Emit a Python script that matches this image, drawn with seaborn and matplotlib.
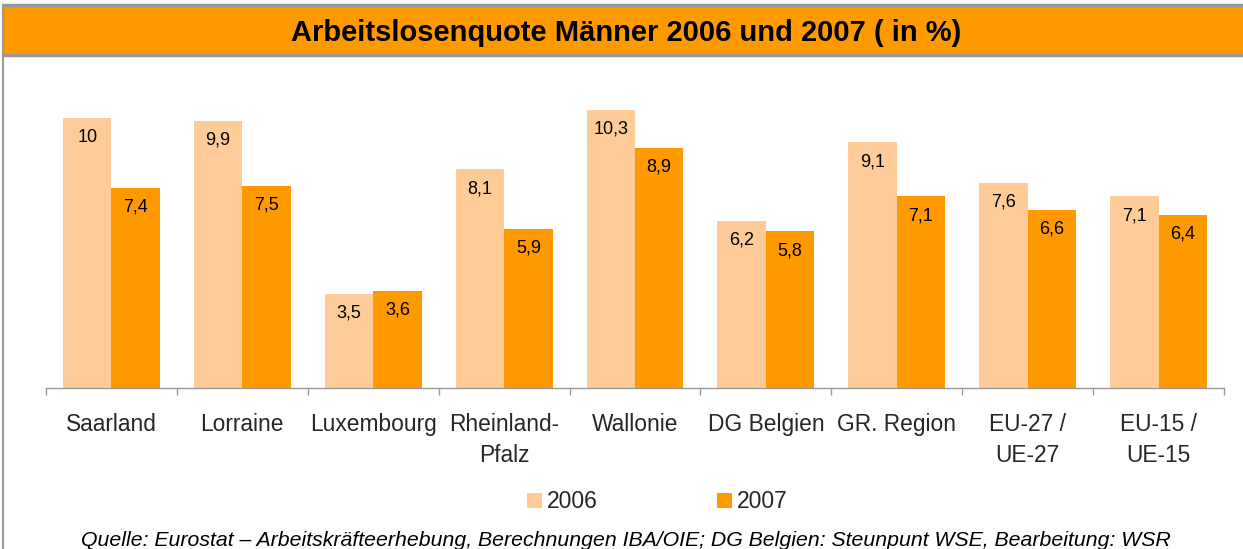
import pandas as pd
import matplotlib.pyplot as plt
import seaborn as sns
from matplotlib.patches import Rectangle, Patch
from matplotlib.lines import Line2D

# ---------- data ----------
regions = ["Saarland", "Lorraine", "Luxembourg", "Rheinland-\nPfalz", "Wallonie",
           "DG Belgien", "GR. Region", "EU-27 /\nUE-27", "EU-15 /\nUE-15"]
rate_2006 = [10.0, 9.9, 3.5, 8.1, 10.3, 6.2, 9.1, 7.6, 7.1]
rate_2007 = [7.4, 7.5, 3.6, 5.9, 8.9, 5.8, 7.1, 6.6, 6.4]
years = ["2006", "2007"]
colors = {"2006": "#FFCC99", "2007": "#FF9900"}

df = pd.concat([
    pd.DataFrame({"region": regions, "rate": rate_2006, "year": "2006"}),
    pd.DataFrame({"region": regions, "rate": rate_2007, "year": "2007"}),
], ignore_index=True)

# ---------- style ----------
sns.set_style("white")
plt.rcParams["font.family"] = ["Liberation Sans", "DejaVu Sans"]

fig = plt.figure(figsize=(12.43, 5.49), dpi=100)
ax = fig.add_axes([46 / 1243, 1 - 388 / 549, (1224 - 46) / 1243, (388 - 64) / 549])

sns.barplot(data=df, x="region", y="rate", hue="year", palette=colors,
            hue_order=years, width=0.74, gap=0, saturation=1, ax=ax,
            legend=False, edgecolor="none", linewidth=0)

# value labels inside the top of each bar, decimal comma
for cont in ax.containers:
    labels = [f"{v:g}".replace(".", ",") for v in cont.datavalues]
    ax.bar_label(cont, labels=labels, padding=-20, fontsize=13, color="#000000")

ax.set_ylim(0, 12)
ax.set_xlim(-0.5, len(regions) - 0.5)
ax.set_xlabel("")
ax.set_ylabel("")
ax.set_yticks([])
for s in ["top", "right", "left"]:
    ax.spines[s].set_visible(False)
ax.spines["bottom"].set_color("#999999")
ax.spines["bottom"].set_linewidth(1)

# labels at category centres, tick marks at boundaries
ax.tick_params(axis="x", which="major", length=0, pad=18, labelsize=16.4)
ax.set_xticks(range(len(regions)))
ax.set_xticklabels(regions, linespacing=1.42, va="top")
ax.set_xticks([i - 0.5 for i in range(len(regions) + 1)], minor=True)
ax.tick_params(axis="x", which="minor", length=5, color="#999999", width=1,
               direction="out", bottom=True)

# ---------- title banner and frame ----------
fig.patches.append(Rectangle((3 / 1243, 1 - 55 / 549), 1, 50 / 549,
                             transform=fig.transFigure, facecolor="#FF9900",
                             edgecolor="none", zorder=0))
fig.lines.append(Line2D([3 / 1243, 1], [1 - 5 / 549] * 2, transform=fig.transFigure,
                        color="#999999", lw=2.5))
fig.lines.append(Line2D([3 / 1243, 1], [1 - 55 / 549] * 2, transform=fig.transFigure,
                        color="#999999", lw=2.5))
fig.lines.append(Line2D([3 / 1243] * 2, [0, 1 - 5 / 549], transform=fig.transFigure,
                        color="#999999", lw=1.5))
fig.text(626 / 1243, 1 - 33 / 549, "Arbeitslosenquote Männer 2006 und 2007 ( in %)",
         ha="center", va="center", fontsize=21, fontweight="bold", color="#000000")

# ---------- legend ----------
handles = [Patch(facecolor=colors[y], edgecolor="none", label=y) for y in years]
fig.legend(handles=handles, loc="center", bbox_to_anchor=(657 / 1243, 1 - 502 / 549),
           ncol=2, frameon=False, fontsize=16.5, handlelength=0.65, handleheight=0.65,
           handletextpad=0.22, columnspacing=5.2, borderpad=0)

# ---------- source ----------
fig.text(626 / 1243, 1 - 540 / 549,
         "Quelle: Eurostat – Arbeitskräfteerhebung, Berechnungen IBA/OIE; DG Belgien: "
         "Steunpunt WSE, Bearbeitung: WSR",
         ha="center", va="center", fontsize=15.3, style="italic", color="#000000")

fig.savefig("out.png", dpi=100)
